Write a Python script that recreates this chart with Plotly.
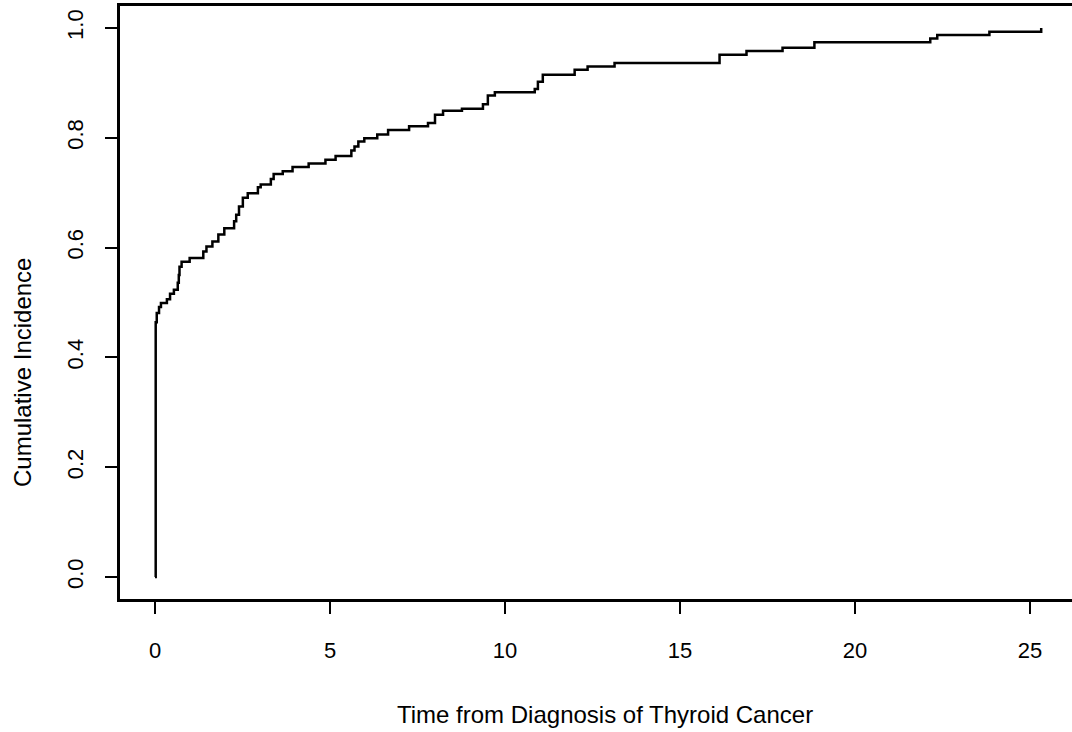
import plotly.graph_objects as go

# Step function (time in years, cumulative incidence)
times = [0, 0.02, 0.05, 0.115, 0.17, 0.34, 0.43, 0.54, 0.65, 0.68,
         0.70, 0.76, 0.99, 1.38, 1.47, 1.64, 1.81, 1.98, 2.26, 2.32,
         2.40, 2.51, 2.65, 2.94, 3.02, 3.31, 3.39, 3.65, 3.93, 4.39,
         4.87, 5.16, 5.61, 5.70, 5.81, 5.98, 6.35, 6.66, 7.26, 7.80,
         8.00, 8.23, 8.77, 9.37, 9.51, 9.71, 10.85, 10.94, 11.08, 11.99,
         12.36, 13.13, 16.13, 16.90, 17.93, 18.84, 22.15, 22.35, 23.84, 25.32]
incidence = [0, 0.464, 0.481, 0.492, 0.499, 0.506, 0.516, 0.523, 0.536, 0.550,
             0.565, 0.574, 0.581, 0.593, 0.602, 0.611, 0.624, 0.635, 0.648, 0.660,
             0.675, 0.691, 0.699, 0.710, 0.715, 0.725, 0.734, 0.739, 0.747, 0.753,
             0.760, 0.767, 0.777, 0.784, 0.793, 0.799, 0.806, 0.814, 0.821, 0.827,
             0.842, 0.849, 0.853, 0.861, 0.877, 0.883, 0.889, 0.902, 0.915, 0.924,
             0.930, 0.936, 0.951, 0.958, 0.964, 0.974, 0.981, 0.987, 0.993, 1.0]

x_ticks = [0, 5, 10, 15, 20, 25]
x_ticktext = ["0", "5", "10", "15", "20", "25"]
y_ticks = [0.0, 0.2, 0.4, 0.6, 0.8, 1.0]
y_ticktext = ["0.0", "0.2", "0.4", "0.6", "0.8", "1.0"]

x_title = "Time from Diagnosis of Thyroid Cancer"
y_title = "Cumulative Incidence"

FONT = "Liberation Sans, Arial, Helvetica, sans-serif"

fig = go.Figure()
fig.add_trace(go.Scatter(
    x=times, y=incidence, mode="lines",
    line=dict(color="black", width=2.5, shape="hv"),
    showlegend=False, hoverinfo="skip",
))

W, H = 1072, 732
ML, MR, MT, MB = 120, 0, 6, 133
pw, ph = W - ML - MR, H - MT - MB

def px_to_paper_x(px):
    return (px - ML) / pw

def py_to_paper_y(py):
    return (H - MB - py) / ph

fig.update_layout(
    width=W, height=H,
    margin=dict(l=ML, r=MR, t=MT, b=MB, pad=0),
    paper_bgcolor="white", plot_bgcolor="white",
    font=dict(family=FONT, color="black", size=22),
    xaxis=dict(
        range=[-1.0, 26.2], tickvals=x_ticks, ticktext=x_ticktext,
        ticks="outside", ticklen=12, tickwidth=2, tickcolor="black",
        showline=True, linewidth=2.5, linecolor="black", mirror=True,
        showgrid=False, zeroline=False, ticklabelstandoff=18,
        tickfont=dict(size=22, family=FONT, color="black"),
    ),
    yaxis=dict(
        range=[-0.04, 1.04], tickvals=y_ticks, ticktext=y_ticktext,
        ticks="outside", ticklen=12, tickwidth=2, tickcolor="black",
        showline=True, linewidth=2.5, linecolor="black", mirror=False,
        showgrid=False, zeroline=False, tickangle=-90, ticklabelstandoff=13,
        tickfont=dict(size=22, family=FONT, color="black"),
    ),
    annotations=[
        dict(text=x_title, xref="paper", yref="paper",
             x=px_to_paper_x(605), y=py_to_paper_y(714),
             xanchor="center", yanchor="middle", showarrow=False,
             font=dict(size=24, family=FONT, color="black")),
        dict(text=y_title, xref="paper", yref="paper",
             x=px_to_paper_x(22), y=py_to_paper_y(373),
             xanchor="center", yanchor="middle", showarrow=False, textangle=-90,
             font=dict(size=24, family=FONT, color="black")),
    ],
)

fig.write_html("out.html")
